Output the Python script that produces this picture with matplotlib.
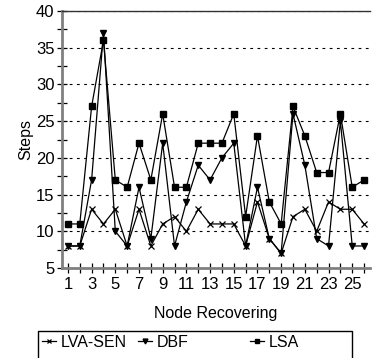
import numpy as np
import matplotlib.pyplot as plt
from matplotlib.ticker import MultipleLocator
from matplotlib.patches import Rectangle

plt.rcParams['font.family'] = ['Liberation Sans Narrow', 'Liberation Sans', 'DejaVu Sans']

# data
nodes = list(range(1, 27))
lva_sen = [8, 8, 13, 11, 13, 8, 13, 8, 11, 12, 10, 13, 11, 11, 11, 8, 14, 9, 7, 12, 13, 10, 14, 13, 13, 11]
dbf = [8, 8, 17, 37, 10, 8, 16, 9, 22, 8, 14, 19, 17, 20, 22, 8, 16, 9, 7, 26, 19, 9, 8, 25, 8, 8]
lsa = [11, 11, 27, 36, 17, 16, 22, 17, 26, 16, 16, 22, 22, 22, 26, 12, 23, 14, 11, 27, 23, 18, 18, 26, 16, 17]
x_labels = [str(n) for n in range(1, 27, 2)]

fig = plt.figure(figsize=(3.75, 3.58), dpi=100)
ax = fig.add_axes([62 / 375, 1 - 268 / 358, (370 - 62) / 375, (268 - 11) / 358])

l1, = ax.plot(nodes, lva_sen, color='black', lw=0.9, marker='x', ms=4.5, mew=0.9, label='LVA-SEN')
l2, = ax.plot(nodes, dbf, color='black', lw=0.9, marker='v', ms=5, label='DBF')
l3, = ax.plot(nodes, lsa, color='black', lw=0.9, marker='s', ms=5, label='LSA')

ax.set_xlim(0.5, 26.5)
ax.set_ylim(5, 40)
ax.yaxis.set_major_locator(MultipleLocator(5))
ax.yaxis.set_minor_locator(MultipleLocator(2.5))
ax.set_xticks(range(1, 27, 2), x_labels)
ax.set_xticks(range(1, 27), minor=True)

ax.tick_params(axis='both', which='both', direction='inout', length=7, width=0.9, labelsize=12, pad=2)
ax.tick_params(axis='x', which='major', pad=3)

ax.grid(True, axis='y', which='major', linestyle=(0, (2.5, 4)), color='black', lw=0.8)
for s in ['left', 'bottom']:
    ax.spines[s].set_color('gray')
    ax.spines[s].set_linewidth(2)
ax.spines['top'].set_color('#333333')
ax.spines['top'].set_linewidth(1)
ax.spines['right'].set_visible(False)

ax.set_xlabel('Node Recovering', fontsize=11.5, labelpad=10)
ax.set_ylabel('Steps', fontsize=11.5, labelpad=2)

# legend box, cut off at the bottom like the original
fig.patches.append(Rectangle((38 / 375, -0.05), (352 - 38) / 375, 1 - 331 / 358 + 0.05,
                             transform=fig.transFigure, fill=False, edgecolor='black', lw=1))
for handle, x0 in [(l1, 40), (l2, 136), (l3, 248)]:
    fig.legend(handles=[handle], loc='upper left', bbox_to_anchor=(x0 / 375, 1 - 333 / 358),
               frameon=False, fontsize=11.5, handlelength=0.9, handletextpad=0.3,
               markerscale=0.7, borderaxespad=0, borderpad=0.1)

plt.savefig('out.png', dpi=100)
